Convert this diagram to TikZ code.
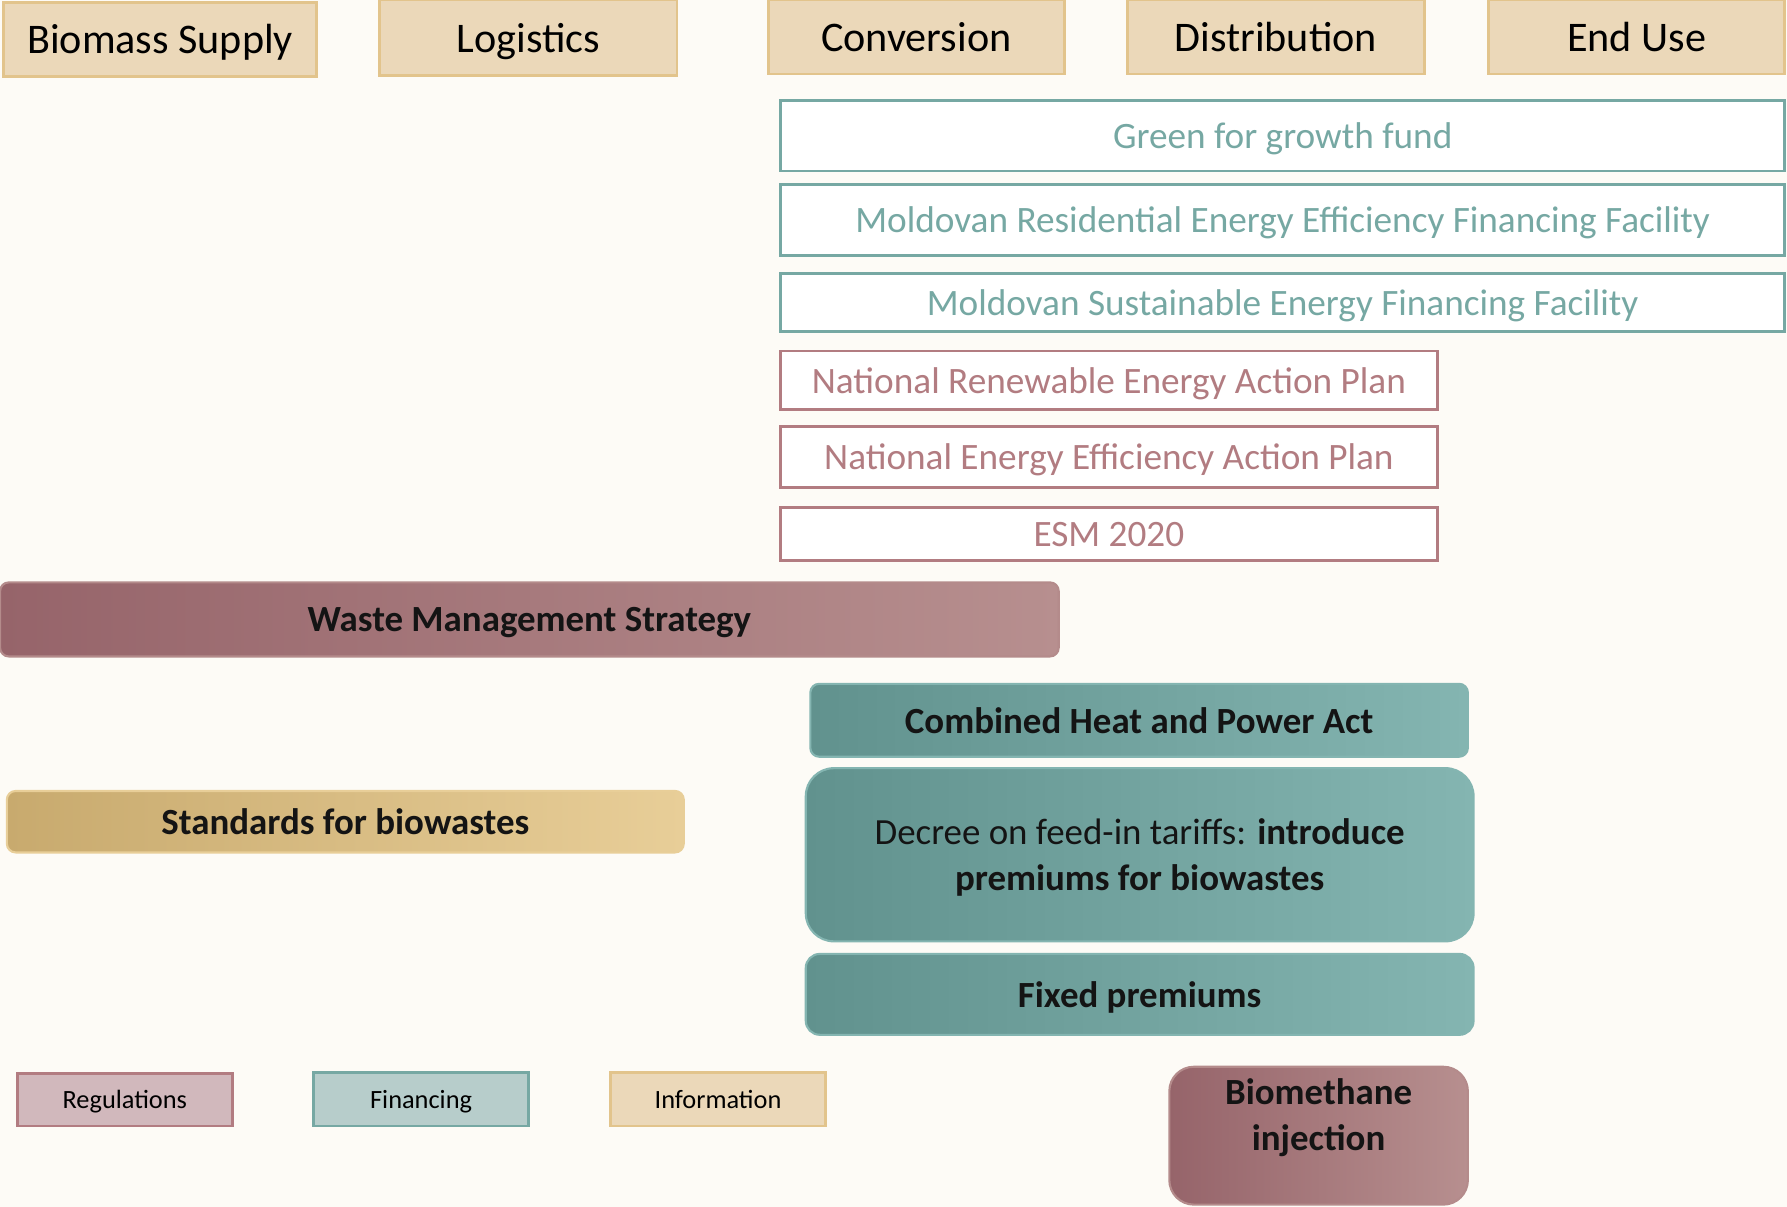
\documentclass[tikz,border=0pt]{standalone}
\usepackage{fontspec}
\setmainfont{Carlito}
\definecolor{bgcream}{RGB}{253,251,246}
\definecolor{headfill}{RGB}{235,216,185}
\definecolor{headline}{RGB}{226,196,140}
\definecolor{finteal}{RGB}{118,168,163}
\definecolor{regrose}{RGB}{178,124,129}
\definecolor{regdark}{RGB}{150,100,106}
\definecolor{reglight}{RGB}{183,143,143}
\definecolor{findark}{RGB}{97,146,142}
\definecolor{finlight}{RGB}{132,181,177}
\definecolor{infodark}{RGB}{200,170,110}
\definecolor{infolight}{RGB}{232,206,152}
\definecolor{regkey}{RGB}{209,184,188}
\definecolor{finkey}{RGB}{183,205,203}
\definecolor{bartext}{RGB}{20,20,20}

\tikzset{
  head/.style={draw=headline, fill=headfill, line width=0.8pt, inner sep=0pt, text depth=0pt,
    font=\fontsize{12}{14.6}\selectfont},
  finline/.style={draw=finteal, fill=white, line width=0.8pt, inner sep=0pt, text depth=0pt,
    text=finteal, font=\fontsize{10.6}{13}\selectfont},
  regline/.style={draw=regrose, fill=white, line width=0.8pt, inner sep=0pt, text depth=0pt,
    text=regrose, font=\fontsize{10.6}{13}\selectfont},
  bar/.style={line width=0.6pt, inner sep=0pt, rounded corners=2.5pt, align=center, text depth=0pt,
    text=bartext, font=\fontsize{10.5}{13}\selectfont\bfseries},
  regbar/.style={bar, draw=reglight!90!regdark, left color=regdark, right color=reglight},
  finbar/.style={bar, draw=finlight, left color=findark, right color=finlight},
  infobar/.style={bar, draw=infolight, left color=infodark, right color=infolight},
  key/.style={line width=0.8pt, inner sep=0pt, minimum width=2.15cm, text depth=0pt,
    font=\fontsize{7.5}{9}\selectfont}
}

\begin{document}
\begin{tikzpicture}[x=0.011397cm, y=-0.011397cm]
  \useasboundingbox (0,0) rectangle (1568,1059);
  \fill[bgcream] (0,0) rectangle (1568,1059);

  % value chain steps
  \node[head, minimum width=3.134cm, minimum height=0.741cm] (bio) at (140.5,34.5) {Biomass Supply};
  \node[head, minimum width=2.975cm, minimum height=0.752cm] (log) at (463.5,33) {Logistics};
  \node[head, minimum width=2.963cm, minimum height=0.741cm] (conv) at (804,32.5) {Conversion};
  \node[head, minimum width=2.975cm, minimum height=0.741cm] (dist) at (1119.5,32.5) {Distribution};
  \node[head, minimum width=2.963cm, minimum height=0.741cm] (enduse) at (1436,32.5) {End Use};

  % financing and plans
  \node[finline, minimum width=10.041cm, minimum height=0.707cm] (ggf) at (1125.5,119) {Green for growth fund};
  \node[finline, minimum width=10.041cm, minimum height=0.707cm] (moreeff) at (1125.5,193) {Moldovan Residential Energy Efficiency Financing Facility};
  \node[finline, minimum width=10.041cm, minimum height=0.581cm] (mosef) at (1125.5,265.5) {Moldovan Sustainable Energy Financing Facility};
  \node[regline, minimum width=6.565cm, minimum height=0.581cm] (nreap) at (973,333.5) {National Renewable Energy Action Plan};
  \node[regline, minimum width=6.565cm, minimum height=0.615cm] (neeap) at (973,401) {National Energy Efficiency Action Plan};
  \node[regline, minimum width=6.565cm, minimum height=0.536cm] (esm) at (973,468.5) {ESM 2020};

  % instruments
  \node[regbar, minimum width=10.588cm, minimum height=0.741cm] (waste) at (464.5,543.5) {Waste Management Strategy};
  \node[finbar, minimum width=6.576cm, minimum height=0.729cm] (chp) at (999.5,632) {Combined Heat and Power Act};
  \node[infobar, minimum width=6.770cm, minimum height=0.615cm] (stand) at (303,721) {Standards for biowastes};
  \node[finbar, rounded corners=8pt, minimum width=6.679cm, minimum height=1.732cm] (fit) at (1000,750)
    {\mdseries Decree on feed-in tariffs: \bfseries introduce\\premiums for biowastes};
  \node[finbar, rounded corners=4pt, minimum width=6.679cm, minimum height=0.809cm] (fixprem) at (1000,872.5) {Fixed premiums};
  \node[regbar, rounded corners=7pt, minimum width=2.986cm, minimum height=1.379cm] (biometh) at (1157,996.5)
    {Biomethane\\injection\\[-1pt]\mbox{}};

  % legend
  \node[key, draw=regrose, fill=regkey, minimum height=0.524cm] (kreg) at (109.5,965) {Regulations};
  \node[key, draw=finteal, fill=finkey, minimum height=0.536cm] (kfin) at (369.5,964.5) {Financing};
  \node[key, draw=headline, fill=headfill, minimum height=0.536cm] (kinfo) at (630,964.5) {Information};
\end{tikzpicture}
\end{document}
